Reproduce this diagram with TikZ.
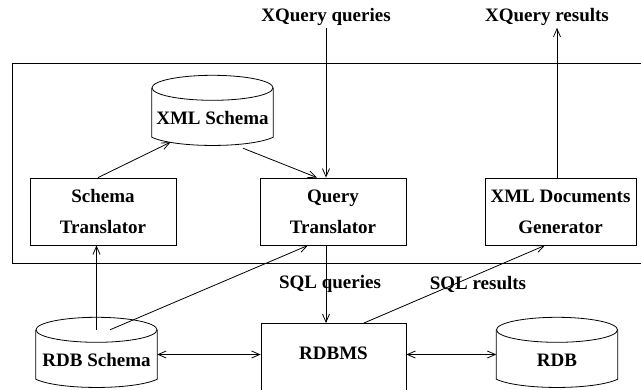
\documentclass[tikz,border=0pt]{standalone}
\usepackage{fontspec}
\setmainfont{Liberation Serif}
\usetikzlibrary{arrows.meta, positioning}
\newcommand{\figfont}{\fontsize{19}{31}\selectfont\bfseries}
\tikzset{
  % thin line as in the drawing
  wire/.style={line width=0.8pt},
  % arrow of a data flow
  flow/.style={wire, -{Straight Barb[length=8pt, width=7pt]}},
  biflow/.style={wire, {Straight Barb[length=8pt, width=7pt]}-{Straight Barb[length=8pt, width=7pt]}},
  % processing module
  box/.style={draw, wire, minimum width=146, minimum height=67, align=center,
    font=\figfont, inner sep=0pt},
  % body of a data store (between top ellipse and bottom curve)
  store/.style={minimum width=121, minimum height=49, inner sep=0pt},
  % labels
  lbl/.style={font=\figfont, inner sep=2pt},
}
% data store: name, x, y of the top ellipse centre, text
\newcommand{\datastore}[4]{%
  \node[store] (#1) at (#2,#3+24.5) {};
  \draw[wire] (#1.north west) -- (#1.south west)
    .. controls +(23,11) and +(-23,11) .. (#1.south east) -- (#1.north east);
  \draw[wire] (#1.north) ellipse [x radius=60.5pt, y radius=12.5pt];
  \node[lbl] (#1-txt) at (#2,#3+30) {#4};
}

\begin{document}
\begin{tikzpicture}[x=1pt, y=-1pt]
  \clip (0,0) rectangle (641,389);
  % system frame
  \draw[wire] (12,63) rectangle (660,263);
  \node[box] (st) at (103,211.5) {Schema\\Translator};
  \node[box] (qt) at (333,211.5) {Query\\Translator};
  \node[box, minimum width=151] (xdg) at (560.5,211.5) {XML Documents\\Generator};
  \node[box, minimum width=145, minimum height=90, anchor=north] (dbms) at (333.5,323) {};
  \node[lbl] (dbms-txt) at (333.5,353) {RDBMS};
  \datastore{xs}{212.5}{88}{XML Schema}
  \datastore{rdbs}{96.5}{330}{RDB Schema}
  \datastore{rdb}{557}{330}{RDB}
  \node[lbl] (xqq) at (326,17) {XQuery queries};
  \node[lbl] (xqr) at (547,17) {XQuery results};
  \node[lbl] (sqlq) at (330,284) {SQL queries};
  \node[lbl] (sqlr) at (478,284) {SQL results};
  % flows
  \draw[flow] (xqq.south) -- (xqq.south |- qt.north);
  \draw[flow] (xqq.south |- qt.south) -- (xqq.south |- dbms.north);
  \draw[flow] ([xshift=-3.5pt]xdg.north) -- ([xshift=-3.5pt]xdg.north |- xqr.south);
  \draw[flow] ([xshift=-5pt]st.north) -- ([xshift=-42pt, yshift=-5pt]xs.south);
  \draw[flow] ([xshift=30.5pt, yshift=-11pt]xs.south) -- ([xshift=-16pt]qt.north);
  \draw[flow] (rdbs.north) -- (rdbs.north |- st.south);
  \draw[flow] ([xshift=13.5pt]rdbs.north) -- ([xshift=-25pt]qt.south);
  \draw[flow] ([xshift=30.5pt]dbms.north) -- ([xshift=-15.5pt]xdg.south);
  \draw[biflow] (rdbs.east) -- (rdbs.east -| dbms.west);
  \draw[biflow] (rdb.west -| dbms.east) -- (rdb.west);
\end{tikzpicture}
\end{document}
